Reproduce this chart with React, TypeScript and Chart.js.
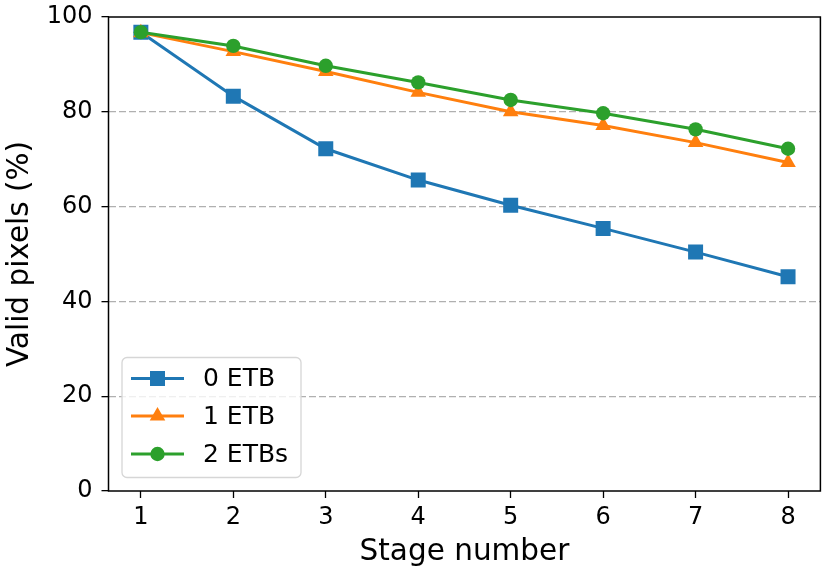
import React, { useEffect, useRef } from "react";
import { Chart, registerables } from "chart.js";

Chart.register(...registerables);

const stages = [1, 2, 3, 4, 5, 6, 7, 8];
const etb0 = [96.8, 83.3, 72.2, 65.6, 60.3, 55.4, 50.4, 45.2];
const etb1 = [96.7, 92.7, 88.5, 84.1, 80.0, 77.1, 73.5, 69.3];
const etb2 = [96.8, 93.9, 89.7, 86.2, 82.5, 79.7, 76.3, 72.2];
const seriesLabels = ["0 ETB", "1 ETB", "2 ETBs"];
const seriesColors = ["#1f77b4", "#ff7f0e", "#2ca02c"];
const seriesMarkers = ["rect", "triangle", "circle"];
const yTicks = [0, 20, 40, 60, 80, 100];
const xTitle = "Stage number";
const yTitle = "Valid pixels (%)";

const FONT = "'DejaVu Sans', sans-serif";
const TICK_SIZE = 24;
const LABEL_SIZE = 29.5;
const LEGEND_SIZE = 25;

function drawMarker(ctx: CanvasRenderingContext2D, kind: string, x: number, y: number, color: string) {
  ctx.save();
  ctx.fillStyle = color;
  ctx.beginPath();
  if (kind === "rect") {
    ctx.rect(x - 7.5, y - 7.5, 15, 15);
  } else if (kind === "triangle") {
    const r = 9;
    for (let i = 0; i < 3; i++) {
      const a = -Math.PI / 2 + (i * 2 * Math.PI) / 3;
      const px = x + r * Math.cos(a);
      const py = y + r * Math.sin(a);
      if (i === 0) ctx.moveTo(px, py);
      else ctx.lineTo(px, py);
    }
    ctx.closePath();
  } else {
    ctx.arc(x, y, 7.2, 0, Math.PI * 2);
  }
  ctx.fill();
  ctx.restore();
}

export default function App() {
  const ref = useRef<HTMLCanvasElement>(null);

  useEffect(() => {
    document.body.style.margin = "0";
    const canvas = ref.current;
    if (!canvas) return;

    const framePlugin = {
      id: "frame",
      afterDatasetsDraw(chart: any) {
        const { ctx, chartArea: a } = chart;
        ctx.save();
        ctx.strokeStyle = "#000";
        ctx.lineWidth = 1.5;
        ctx.strokeRect(a.left, a.top, a.right - a.left, a.bottom - a.top);
        ctx.restore();
      },
    };

    const legendPlugin = {
      id: "mplLegend",
      afterDraw(chart: any) {
        const ctx: CanvasRenderingContext2D = chart.ctx;
        const bx = 122, by = 357.5, bw = 179, bh = 120, r = 5;
        ctx.save();
        ctx.beginPath();
        ctx.moveTo(bx + r, by);
        ctx.lineTo(bx + bw - r, by);
        ctx.arcTo(bx + bw, by, bx + bw, by + r, r);
        ctx.lineTo(bx + bw, by + bh - r);
        ctx.arcTo(bx + bw, by + bh, bx + bw - r, by + bh, r);
        ctx.lineTo(bx + r, by + bh);
        ctx.arcTo(bx, by + bh, bx, by + bh - r, r);
        ctx.lineTo(bx, by + r);
        ctx.arcTo(bx, by, bx + r, by, r);
        ctx.closePath();
        ctx.fillStyle = "rgba(255,255,255,0.8)";
        ctx.fill();
        ctx.strokeStyle = "#d6d6d6";
        ctx.lineWidth = 1.3;
        ctx.stroke();
        const rows = [378.5, 416, 454];
        chart.data.datasets.forEach((ds: any, i: number) => {
          const y = rows[i];
          ctx.strokeStyle = ds.borderColor;
          ctx.lineWidth = 3;
          ctx.beginPath();
          ctx.moveTo(131, y);
          ctx.lineTo(184, y);
          ctx.stroke();
          drawMarker(ctx, seriesMarkers[i], 157.5, y, ds.borderColor);
          ctx.fillStyle = "#000";
          ctx.font = `${LEGEND_SIZE}px ${FONT}`;
          ctx.textBaseline = "middle";
          ctx.textAlign = "left";
          ctx.fillText(ds.label, 203, y + 1);
        });
        ctx.restore();
      },
    };

    const series = [etb0, etb1, etb2];
    const chart = new Chart(canvas, {
      type: "line",
      data: {
        datasets: series.map((vals, i) => ({
          label: seriesLabels[i],
          data: stages.map((s, j) => ({ x: s, y: vals[j] })),
          borderColor: seriesColors[i],
          backgroundColor: seriesColors[i],
          pointBackgroundColor: seriesColors[i],
          pointBorderColor: seriesColors[i],
          pointBorderWidth: 0,
          pointStyle: seriesMarkers[i] as any,
          pointRadius: i === 0 ? 10.6 : i === 1 ? 9 : 7.2,
          borderWidth: 3,
          tension: 0,
          fill: false,
          order: 3 - i,
        })),
      },
      options: {
        responsive: false,
        animation: false,
        devicePixelRatio: 1,
        layout: { padding: { top: 17, right: 8, left: 0, bottom: 0 } },
        plugins: {
          legend: { display: false },
          tooltip: { enabled: false },
        },
        scales: {
          x: {
            type: "linear",
            min: 0.65,
            max: 8.35,
            afterBuildTicks: (scale: any) => {
              scale.ticks = stages.map((v) => ({ value: v }));
            },
            afterFit: (scale: any) => {
              scale.height = 85;
              scale.paddingLeft = 0;
              scale.paddingRight = 0;
            },
            grid: {
              drawOnChartArea: false,
              tickLength: 7,
              tickWidth: 1.3,
              tickColor: "#000",
            },
            border: { display: false },
            ticks: {
              color: "#000",
              font: { family: FONT, size: TICK_SIZE },
              padding: 5,
              maxRotation: 0,
              autoSkip: false,
            },
            title: {
              display: true,
              text: xTitle,
              color: "#000",
              font: { family: FONT, size: LABEL_SIZE },
              padding: { top: 0, bottom: 6 },
            },
          },
          y: {
            min: 0,
            max: 100,
            afterBuildTicks: (scale: any) => {
              scale.ticks = yTicks.map((v) => ({ value: v }));
            },
            afterFit: (scale: any) => {
              scale.width = 108.5;
              scale.paddingTop = 0;
              scale.paddingBottom = 0;
            },
            grid: {
              color: (c: any) =>
                c.tick && (c.tick.value === 0 || c.tick.value === 100) ? "rgba(0,0,0,0)" : "#b0b0b0",
              lineWidth: 1.3,
              tickLength: 7,
              tickWidth: 1.3,
              tickColor: "#000",
              tickBorderDash: [],
              borderDash: [7, 3],
            } as any,
            border: { display: false, dash: [7, 3] },
            ticks: {
              color: "#000",
              font: { family: FONT, size: TICK_SIZE },
              padding: 9,
            },
            title: {
              display: true,
              text: yTitle,
              color: "#000",
              font: { family: FONT, size: LABEL_SIZE },
              padding: { top: 3, bottom: 0 },
            },
          },
        },
      },
      plugins: [framePlugin, legendPlugin],
    });

    return () => chart.destroy();
  }, []);

  return (
    <div style={{ position: "absolute", left: 0, top: 0, width: 831, height: 576 }}>
      <canvas ref={ref} width={831} height={576} style={{ display: "block" }} />
    </div>
  );
}
